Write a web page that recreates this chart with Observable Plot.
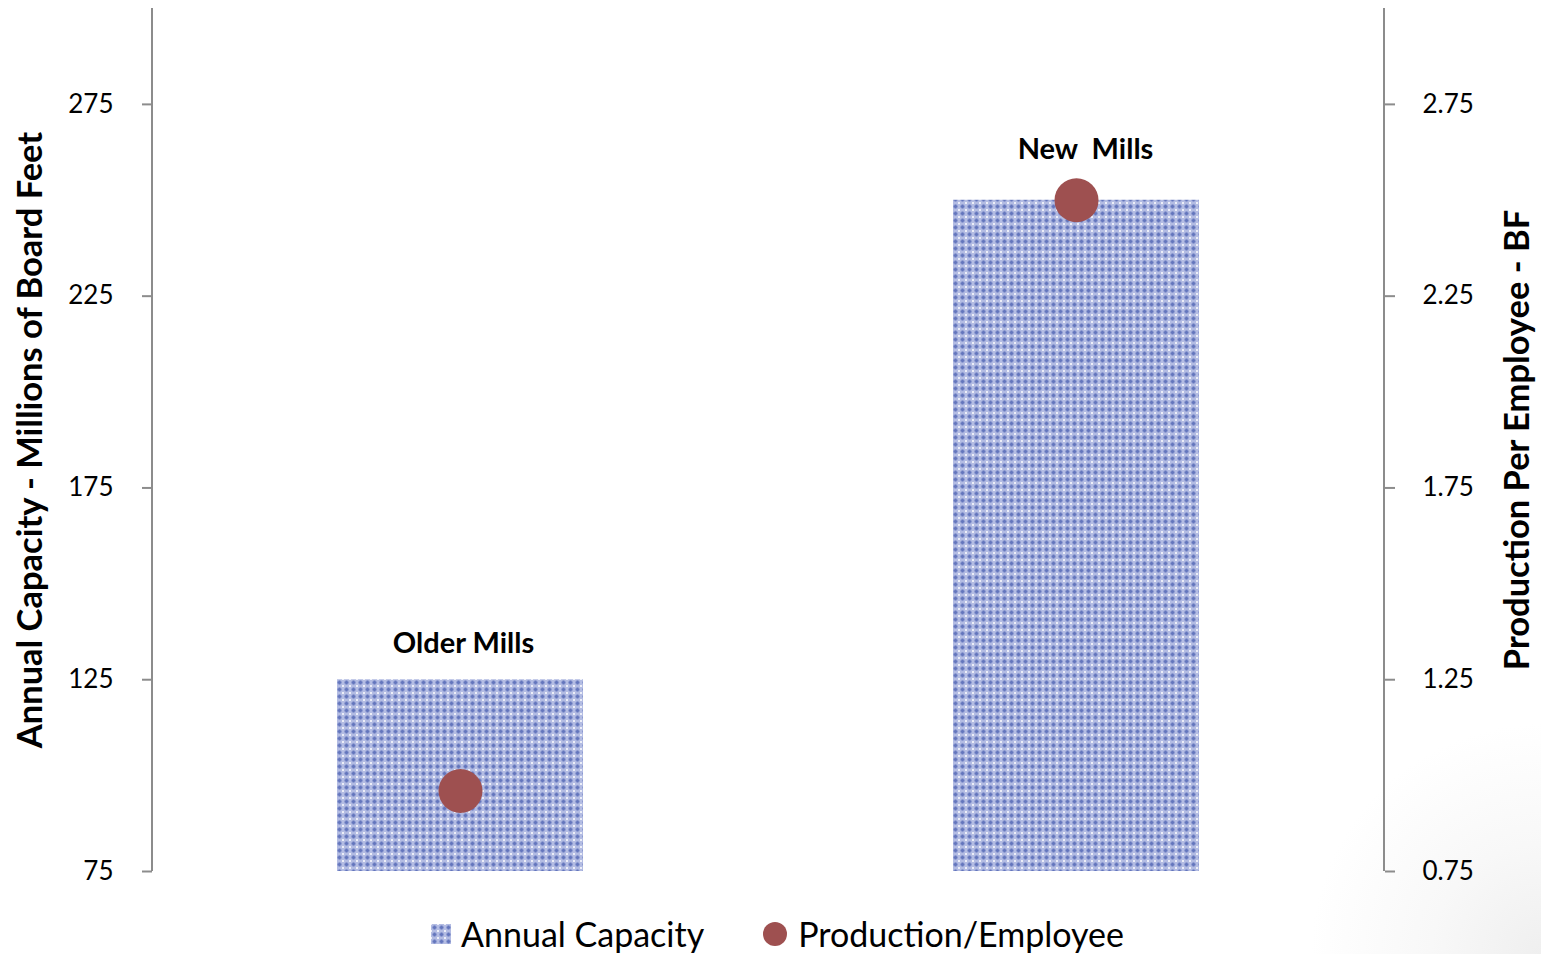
<!DOCTYPE html>
<html>
<head>
<meta charset="utf-8">
<script src="https://cdn.jsdelivr.net/npm/d3@7"></script>
<script src="https://cdn.jsdelivr.net/npm/@observablehq/plot@0.6"></script>
<style>
  html, body { margin: 0; padding: 0; background: #fff; }
  body { width: 1541px; height: 954px; overflow: hidden; font-family: Lato, "Open Sans", sans-serif;
         background: radial-gradient(circle at 1541px 954px, #efefef 0px, #f8f8f8 110px, #ffffff 230px); }
  #chart svg { display: block; background: transparent; }
  #legend { display: flex; justify-content: center; align-items: center; gap: 58px; height: 49px;
            font-family: Lato, sans-serif; font-size: 34px; color: #000; margin-top: 4px; padding-left: 14px; }
  .item { display: flex; align-items: center; gap: 10px; }
</style>
</head>
<body>
<div id="chart"></div>
<div id="legend">
  <div class="item"><svg width="20" height="20"><defs><pattern id="lp" width="7" height="7" patternUnits="userSpaceOnUse"><rect width="7" height="7" fill="#b3bce3"/><rect x="1.5" y="2.5" width="4" height="2" fill="#6476bd"/><rect x="2.5" y="1.5" width="2" height="4" fill="#6476bd"/><circle cx="0" cy="0" r="1" fill="#fff"/><circle cx="7" cy="0" r="1" fill="#fff"/><circle cx="0" cy="7" r="1" fill="#fff"/><circle cx="7" cy="7" r="1" fill="#fff"/></pattern></defs><rect width="20" height="20" fill="url(#lp)"/></svg><span>Annual Capacity</span></div>
  <div class="item"><svg width="26" height="26"><circle cx="13" cy="13" r="12" fill="#9e5050"/></svg><span>Production/Employee</span></div>
</div>
<script>
// ---- data ----
const mills = ["Older Mills", "New Mills"];
const millLabels = ["Older Mills", "New  Mills"];
const capacity = [125, 250];          // millions of board feet (left axis)
const perEmployee = [0.96, 2.5];      // production per employee - BF (right axis)
const leftTicks = [75, 125, 175, 225, 275];
const rightTicks = [0.75, 1.25, 1.75, 2.25, 2.75];
const leftTitle = "Annual Capacity - Millions of Board Feet";
const rightTitle = "Production Per Employee - BF";

const rows = mills.map((m, i) => ({mill: m, label: millLabels[i], cap: capacity[i], ppe: perEmployee[i]}));
// right axis maps linearly onto left axis: 0.75 -> 75, 2.75 -> 275
const toLeft = v => 75 + (v - 0.75) * 100;

const gray = "#8c8c8c";
const chart = Plot.plot({
  width: 1541,
  height: 905,
  marginLeft: 152,
  marginRight: 157,
  marginTop: 8,
  marginBottom: 34,
  style: {fontFamily: "Lato, sans-serif", fontSize: "26px", color: "#000", background: "transparent", overflow: "visible"},
  x: {domain: mills, paddingInner: 0.6, paddingOuter: 0.3, axis: null},
  y: {domain: [75, 300]},
  marks: [
    Plot.barY(rows, {x: "mill", y1: 75, y2: "cap", fill: "url(#pat)"}),
    Plot.dot(rows, {x: "mill", y: d => toLeft(d.ppe), r: 22, fill: "#9e5050"}),
    Plot.text(rows.filter(d => d.mill === "Older Mills"), {x: "mill", y: "cap", text: "label", dy: -36, dx: 3, fontWeight: "bold", fontSize: 29}),
    Plot.text(rows.filter(d => d.mill === "New Mills"), {x: "mill", y: "cap", text: "label", dy: -51, dx: 9, fontWeight: "bold", fontSize: 29}),
    Plot.axisY({anchor: "left", ticks: leftTicks, tickSize: 10, tickPadding: 29, label: null, stroke: gray, strokeWidth: 2, fill: "#000", strokeOpacity: 1}),
    Plot.axisY({anchor: "right", ticks: rightTicks.map(toLeft), tickSize: 10, tickPadding: 28, label: null,
                tickFormat: d => ((d - 75) / 100 + 0.75).toFixed(2), stroke: gray, strokeWidth: 2, fill: "#000", strokeOpacity: 1}),
    Plot.text([leftTitle], {frameAnchor: "left", textAnchor: "middle", rotate: -90, dx: -122, fontWeight: "bold", fontSize: 34.5}),
    Plot.text([rightTitle], {frameAnchor: "right", textAnchor: "middle", rotate: -90, dx: 133, fontWeight: "bold", fontSize: 34.5})
  ]
});

// pattern definition + axis lines
const svg = d3.select(chart);
const defs = svg.insert("defs", ":first-child");
const p = defs.append("pattern").attr("id", "pat").attr("width", 7).attr("height", 7).attr("patternUnits", "userSpaceOnUse");
p.append("rect").attr("width", 7).attr("height", 7).attr("fill", "#b3bce3");
p.append("rect").attr("x", 1.5).attr("y", 2.5).attr("width", 4).attr("height", 2).attr("fill", "#6476bd");
p.append("rect").attr("x", 2.5).attr("y", 1.5).attr("width", 2).attr("height", 4).attr("fill", "#6476bd");
[[0,0],[7,0],[0,7],[7,7]].forEach(([cx, cy]) => p.append("circle").attr("cx", cx).attr("cy", cy).attr("r", 1).attr("fill", "#fff"));

const xr = chart.scale("x").range, yr = chart.scale("y").range;
const [y0, y1] = [Math.min(...yr), Math.max(...yr)];
svg.append("line").attr("x1", xr[0]).attr("x2", xr[0]).attr("y1", y0).attr("y2", y1).attr("stroke", gray).attr("stroke-width", 2);
svg.append("line").attr("x1", xr[1]).attr("x2", xr[1]).attr("y1", y0).attr("y2", y1).attr("stroke", gray).attr("stroke-width", 2);

document.getElementById("chart").appendChild(chart);
</script>
</body>
</html>
